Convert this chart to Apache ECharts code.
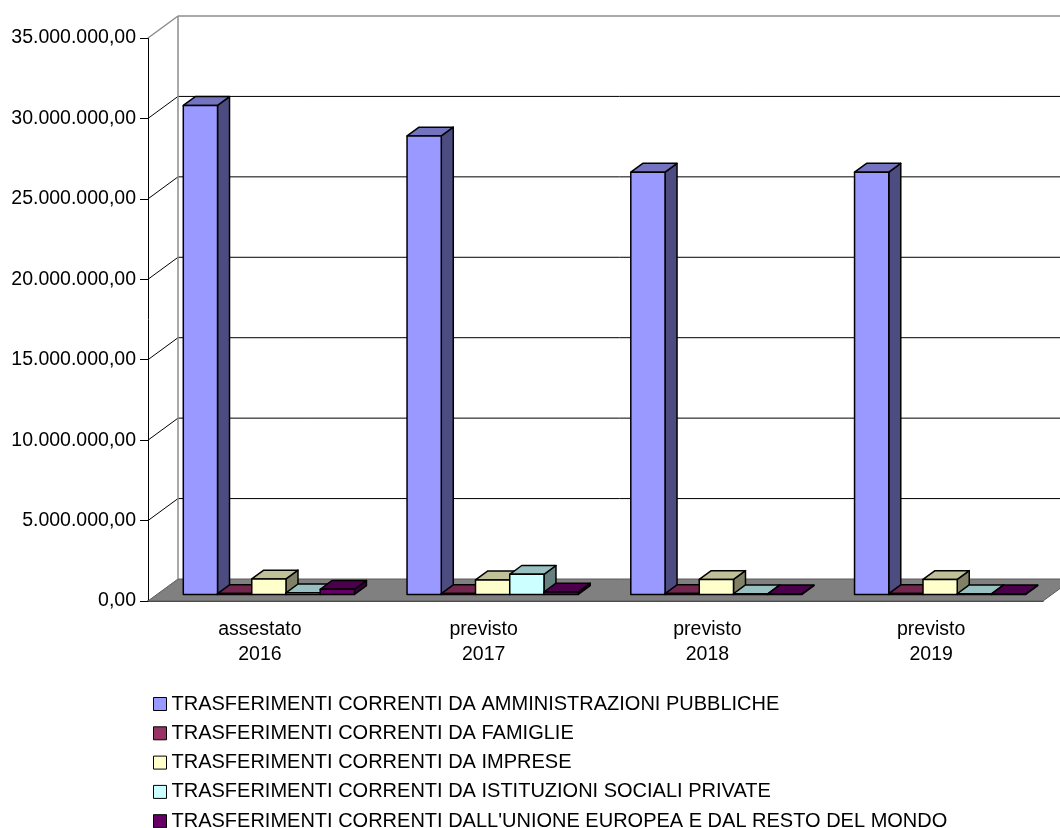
<!DOCTYPE html>
<html>
<head>
<meta charset="utf-8">
<script src="https://cdn.jsdelivr.net/npm/echarts@6/dist/echarts.min.js"></script>
<style>
  html, body { margin: 0; padding: 0; background: #fff; }
  #chart { width: 1060px; height: 828px; }
</style>
</head>
<body>
<div id="chart"></div>
<script>
// categorie e valori
var categories = ['assestato\n2016', 'previsto\n2017', 'previsto\n2018', 'previsto\n2019'];
var seriesNames = [
    'TRASFERIMENTI CORRENTI DA AMMINISTRAZIONI PUBBLICHE',
    'TRASFERIMENTI CORRENTI DA FAMIGLIE',
    'TRASFERIMENTI CORRENTI DA IMPRESE',
    'TRASFERIMENTI CORRENTI DA ISTITUZIONI SOCIALI PRIVATE',
    "TRASFERIMENTI CORRENTI DALL'UNIONE EUROPEA E DAL RESTO DEL MONDO"
];
var amministrazioni = [30400000, 28500000, 26250000, 26250000];
var famiglie = [50000, 50000, 50000, 50000];
var imprese = [960000, 900000, 930000, 930000];
var istituzioni = [100000, 1250000, 40000, 40000];
var unioneEuropea = [320000, 150000, 30000, 30000];
var yTicks = [0, 5000000, 10000000, 15000000, 20000000, 25000000, 30000000, 35000000];

var seriesValues = [amministrazioni, famiglie, imprese, istituzioni, unioneEuropea];

// colori: fronte, sopra, lato
var palette = [
    ['#9999FF', '#7373C0', '#4C4C80'],
    ['#993366', '#73264D', '#4C1933'],
    ['#FFFFCC', '#C0C099', '#808066'],
    ['#CCFFFF', '#99C0C0', '#668080'],
    ['#660066', '#4C004C', '#330033']
];

// profondita' prospettica (px)
const DX = 30;
const DY = -22;
const D0 = 0.3;
const D1 = 0.7;
const BAR_RATIO = 0.153;
const FONT = 'Liberation Sans, Arial, sans-serif';

function fmtIt(v) {
    var s = Math.round(v).toString().replace(/\B(?=(\d{3})+(?!\d))/g, '.');
    return s + ',00';
}

function barRender(idx) {
    var col = palette[idx];
    return function (params, api) {
        var cat = api.value(0);
        var val = api.value(1);
        var c0 = api.coord([cat, 0]);
        var c1 = api.coord([cat, val]);
        var band = api.size([1, 0])[0];
        var w = band * BAR_RATIO;
        var gap = (band - w * 5) / 2;
        var x0 = c0[0] - band / 2 + gap + idx * w + DX * D0;
        var yb = c0[1] + DY * D0;
        var yt = c1[1] + DY * D0;
        var dx = DX * (D1 - D0);
        var dy = DY * (D1 - D0);
        var stroke = {stroke: '#000', lineWidth: 1.5, lineJoin: 'round'};
        return {
            type: 'group',
            children: [
                {
                    type: 'polygon',
                    shape: {points: [[x0 + w, yt], [x0 + w + dx, yt + dy], [x0 + w + dx, yb + dy], [x0 + w, yb]]},
                    style: Object.assign({fill: col[2]}, stroke)
                },
                {
                    type: 'polygon',
                    shape: {points: [[x0, yt], [x0 + w, yt], [x0 + w + dx, yt + dy], [x0 + dx, yt + dy]]},
                    style: Object.assign({fill: col[1]}, stroke)
                },
                {
                    type: 'rect',
                    shape: {x: x0, y: yt, width: w, height: yb - yt},
                    style: Object.assign({fill: col[0]}, stroke)
                }
            ]
        };
    };
}

function wallRender(params, api) {
    var v = api.value(0);
    var cs = params.coordSys;
    var xL = cs.x;
    var xR = cs.x + cs.width;
    var y = api.coord([0, v])[1];
    var children = [];
    if (v === 0) {
        children.push({
            type: 'polygon',
            shape: {points: [[xL, y], [xR, y], [xR + DX, y + DY], [xL + DX, y + DY]]},
            style: {fill: '#808080', stroke: '#5a5a5a', lineWidth: 1}
        });
        return {type: 'group', children: children};
    }
    var isTop = v === yTicks[yTicks.length - 1];
    var lineStyle = isTop ? {stroke: '#8c8c8c', lineWidth: 1.5} : {stroke: '#000', lineWidth: 1};
    children.push({
        type: 'line',
        shape: {x1: xL, y1: y, x2: xL + DX, y2: y + DY},
        style: lineStyle
    });
    children.push({
        type: 'line',
        shape: {x1: xL + DX, y1: y + DY, x2: xR + DX, y2: y + DY},
        style: lineStyle
    });
    if (isTop) {
        var yz = api.coord([0, 0])[1];
        children.push({
            type: 'line',
            shape: {x1: xL + DX, y1: y + DY, x2: xL + DX, y2: yz + DY},
            style: {stroke: '#8c8c8c', lineWidth: 1.5}
        });
    }
    return {type: 'group', children: children};
}

var chart = echarts.init(document.getElementById('chart'));

var series = [{
    type: 'custom',
    name: 'pareti',
    z: 1,
    silent: true,
    renderItem: wallRender,
    data: yTicks.map(function (v) { return [v]; }),
    encode: {y: 0}
}];

seriesNames.forEach(function (name, i) {
    series.push({
        type: 'custom',
        name: name,
        z: 2,
        renderItem: barRender(i),
        itemStyle: {color: palette[i][0], borderColor: '#000', borderWidth: 1},
        data: seriesValues[i].map(function (v, k) { return [k, v]; }),
        encode: {x: 0, y: 1}
    });
});

chart.setOption({
    animation: false,
    backgroundColor: '#fff',
    textStyle: {fontFamily: FONT},
    grid: {left: 148, top: 38, width: 895, bottom: 227, containLabel: false},
    legend: {
        data: seriesNames,
        orient: 'vertical',
        left: 153,
        top: 694,
        width: 900,
        height: 145,
        padding: 0,
        icon: 'rect',
        itemWidth: 13,
        itemHeight: 13,
        itemGap: 9.3,
        itemStyle: {borderColor: '#000', borderWidth: 1},
        textStyle: {fontSize: 20, color: '#000', fontFamily: FONT}
    },
    xAxis: {
        type: 'category',
        data: categories,
        axisLine: {lineStyle: {color: '#000', width: 1.5}},
        axisTick: {length: 10, lineStyle: {color: '#000'}},
        axisLabel: {
            color: '#000',
            fontSize: 19.5,
            lineHeight: 25,
            margin: 16,
            fontFamily: FONT
        },
        splitLine: {show: false}
    },
    yAxis: {
        type: 'value',
        min: 0,
        max: 35000000,
        interval: 5000000,
        axisLine: {show: true, lineStyle: {color: '#000', width: 1}},
        axisTick: {show: true, length: 8, lineStyle: {color: '#000'}},
        axisLabel: {
            color: '#000',
            fontSize: 19.5,
            margin: 12,
            formatter: fmtIt,
            fontFamily: FONT
        },
        splitLine: {show: false}
    },
    series: series
});
</script>
</body>
</html>
